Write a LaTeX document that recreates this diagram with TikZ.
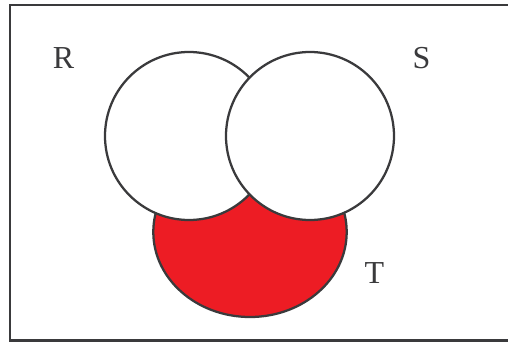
\documentclass[tikz,border=0pt]{standalone}
\usepackage{fontspec}
\setmainfont{Liberation Serif}
\definecolor{venngrey}{RGB}{58,58,60}
\definecolor{vennred}{RGB}{237,28,36}
\tikzset{every picture/.style={line width=1.7pt}}

\begin{document}
\begin{tikzpicture}[x=0.75pt,y=0.75pt,yscale=-1,xscale=1]
\useasboundingbox (0,0) rectangle (508,343);

%Shape: Rectangle [id:universe] 
\draw [color=venngrey, line width=1.8pt] (10,5) rectangle (516,340.5) ;
%Shape: Ellipse [id:setT] 
\draw [color=venngrey, fill=vennred] (250,232) ellipse [x radius=96.7, y radius=85] ;
%Shape: Circle [id:setR] 
\draw [color=venngrey, fill=white] (189,136) circle [radius=84] ;
%Shape: Circle [id:setS] 
\draw [color=venngrey, fill=white] (310,136) circle [radius=84] ;

% Text Node
\node (labR) [text=venngrey, font=\fontsize{24}{28}\selectfont, inner sep=0pt] at (63.5,58) {R};
% Text Node
\node (labS) [text=venngrey, font=\fontsize{24}{28}\selectfont, inner sep=0pt] at (421.5,58) {S};
% Text Node
\node (labT) [text=venngrey, font=\fontsize{24}{28}\selectfont, inner sep=0pt] at (374.5,273.5) {T};

\end{tikzpicture}
\end{document}
